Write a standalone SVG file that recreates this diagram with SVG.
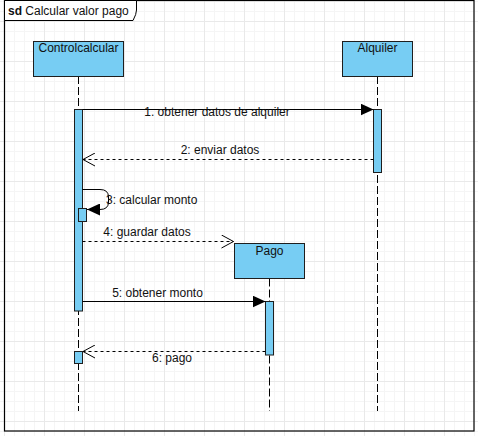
<svg xmlns="http://www.w3.org/2000/svg" width="478" height="436" viewBox="0 0 478 436">
  <defs>
    <pattern id="minorGrid" patternUnits="userSpaceOnUse" x="4" y="1" width="10" height="10">
      <path d="M0,0.5 H10 M0.5,0 V10" fill="none" stroke="#f5f5f5" stroke-width="1"/>
    </pattern>
    <pattern id="majorGrid" patternUnits="userSpaceOnUse" x="4" y="21" width="40" height="40">
      <path d="M0,0.5 H40 M0.5,0 V40" fill="none" stroke="#e9e9e9" stroke-width="1"/>
    </pattern>
    <marker id="filledArrow" viewBox="0 0 13 12" refX="13" refY="6" markerWidth="13" markerHeight="12" markerUnits="userSpaceOnUse" orient="auto">
      <path d="M0,0 L13,6 L0,12 Z" fill="#000"/>
    </marker>
    <marker id="openArrow" viewBox="0 0 14 14" refX="13" refY="7" markerWidth="14" markerHeight="14" markerUnits="userSpaceOnUse" orient="auto">
      <path d="M1,0.5 L13,7 L1,13.5" fill="none" stroke="#000" stroke-width="1"/>
    </marker>
  </defs>
  <style>
    .lbl { font-family: "Liberation Sans", Arial, Helvetica, sans-serif; font-size: 12px; fill: #111; }
    .mid { text-anchor: middle; }
    .head { fill: #77cdf3; stroke: #1e1e1e; stroke-width: 1; }
    .act { fill: #77cdf3; stroke: #1e1e1e; stroke-width: 1; }
    .life { fill: none; stroke: #000; stroke-width: 1; stroke-dasharray: 8 3; }
    .call { fill: none; stroke: #000; stroke-width: 1; }
    .ret { fill: none; stroke: #000; stroke-width: 1; stroke-dasharray: 3 3; }
  </style>

  <!-- canvas and grid -->
  <rect width="478" height="436" fill="#fff"/>
  <rect width="478" height="436" fill="url(#minorGrid)"/>
  <rect width="478" height="436" fill="url(#majorGrid)"/>

  <!-- sequence frame -->
  <g id="frame">
    <rect x="4.5" y="0.5" width="469.5" height="430.5" fill="none" stroke="#000" stroke-width="1.2"/>
    <path d="M4.5,0.5 H136.5 V10 Q136.5,14 133,20.5 H4.5 Z" fill="#fff" stroke="#000" stroke-width="1"/>
    <text class="lbl" x="8" y="15"><tspan font-weight="bold">sd</tspan> Calcular valor pago</text>
  </g>

  <!-- lifelines -->
  <g id="lifelines">
    <line class="life" x1="78.5" y1="76" x2="78.5" y2="411"/>
    <line class="life" x1="377.5" y1="76" x2="377.5" y2="411"/>
    <line class="life" x1="269.5" y1="278.5" x2="269.5" y2="411"/>
  </g>

  <!-- participants -->
  <g id="controlcalcular">
    <rect class="head" x="33.5" y="41.5" width="90" height="35"/>
    <text class="lbl mid" x="78.5" y="52">Controlcalcular</text>
    <rect class="act" x="74.5" y="109.5" width="8" height="201.5"/>
    <rect class="act" x="78.5" y="208.5" width="8" height="13"/>
    <rect class="act" x="74.5" y="351.5" width="8" height="12"/>
  </g>

  <g id="alquiler">
    <rect class="head" x="342.5" y="41.5" width="70" height="35"/>
    <text class="lbl mid" x="377.5" y="52">Alquiler</text>
    <rect class="act" x="373.5" y="109.5" width="8" height="63"/>
  </g>

  <g id="pago">
    <rect class="head" x="234.5" y="243.5" width="70" height="35"/>
    <text class="lbl mid" x="269.5" y="255">Pago</text>
    <rect class="act" x="265.5" y="301.5" width="8" height="53.5"/>
  </g>

  <!-- messages -->
  <g id="connectors">
    <line class="call" x1="82.5" y1="109.5" x2="373.5" y2="109.5" marker-end="url(#filledArrow)"/>
    <text class="lbl mid" x="217" y="116">1. obtener datos de alquiler</text>

    <line class="ret" x1="373.5" y1="159.5" x2="83" y2="159.5" marker-end="url(#openArrow)"/>
    <text class="lbl mid" x="220" y="154">2: enviar datos</text>

    <path class="call" d="M82.5,189.5 H100 Q108.5,189.5 108.5,197 V202 Q108.5,209.5 100,209.5 H87" marker-end="url(#filledArrow)"/>
    <text class="lbl" x="106" y="204">3: calcular monto</text>

    <line class="ret" x1="82.5" y1="241.5" x2="233.5" y2="241.5" marker-end="url(#openArrow)"/>
    <text class="lbl mid" x="147" y="236">4: guardar datos</text>

    <line class="call" x1="82.5" y1="301.5" x2="265.5" y2="301.5" marker-end="url(#filledArrow)"/>
    <text class="lbl mid" x="157.5" y="297">5: obtener monto</text>

    <line class="ret" x1="265.5" y1="351.5" x2="83" y2="351.5" marker-end="url(#openArrow)"/>
    <text class="lbl mid" x="172" y="362">6: pago</text>
  </g>
</svg>
